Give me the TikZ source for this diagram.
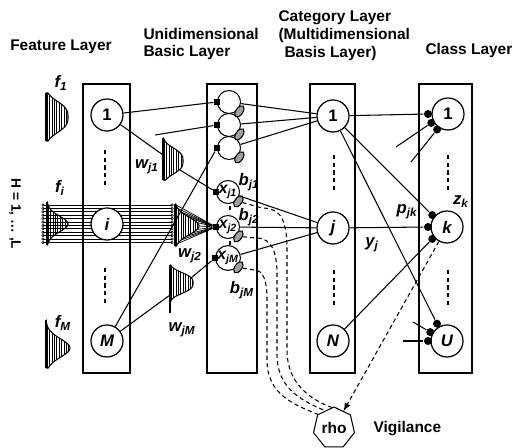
\documentclass[tikz,border=0pt]{standalone}
\usepackage{fontspec}
\setmainfont{Liberation Sans}
\usetikzlibrary{shapes.geometric}

\newcommand{\figfont}{\fontsize{8.8}{10.2}\selectfont\bfseries}
\newcommand{\lblfont}{\fontsize{9.5}{11}\selectfont\bfseries\itshape}
\newcommand{\sub}[2]{#1\textsubscript{#2}}
% hatched half gaussian: x0, ytop, ybot, ypeak, width, sigma, power
\newcommand{\gauss}[7]{%
  \begin{scope}
    \clip (#1,-#2) -- plot[domain=#2:#3,samples=51] ({#1+#5*exp(0-pow(abs((\x-#4)/#6),#7))},{-\x}) -- (#1,-#3) -- cycle;
    \foreach \h in {1.2,3.6,...,30} \draw[line width=0.35pt] (#1+\h,-#2) -- (#1+\h,-#3);
  \end{scope}
  \draw (#1,-#2) -- (#1,-#3);
  \draw (#1,-#2) -- plot[domain=#2:#3,samples=51] ({#1+#5*exp(0-pow(abs((\x-#4)/#6),#7))},{-\x}) -- (#1,-#3);
}

\tikzset{
  layerbox/.style={draw, line width=0.7pt},
  title/.style={font=\figfont, align=left, inner sep=0pt},
  lbl/.style={font=\lblfont, inner sep=0pt},
  bigunit/.style={circle, draw, fill=white, line width=0.7pt, minimum size=0.64cm, inner sep=0pt, font=\lblfont},
  smallunit/.style={circle, draw, fill=white, minimum size=0.46cm, inner sep=0pt, font=\fontsize{9}{10}\selectfont\bfseries\itshape},
  syn/.style={rectangle, fill=black, minimum size=0.12cm, inner sep=0pt},
  dot/.style={circle, fill=black, minimum size=0.16cm, inner sep=0pt},
  bias/.style={ellipse, draw, fill=gray!75, minimum width=0.26cm, minimum height=0.14cm, inner sep=0pt, rotate=55},
  vdash/.style={dash pattern=on 2.4pt off 2pt},
  vigil/.style={dash pattern=on 2.4pt off 1.8pt},
  pin/.style={circle, draw, minimum size=0.05cm, inner sep=0pt, line width=0.3pt},
}

\begin{document}
\begin{tikzpicture}[x=0.02cm, y=0.02cm, line width=0.6pt]
\useasboundingbox (0,0) rectangle (514,-448);

% titles
\node[title] (tfeat) at (61,-47) {Feature Layer};
\node[title, anchor=west] (tuni) at (143,-44) {Unidimensional\\Basic Layer};
\node[title, anchor=west] (tcat) at (278,-36) {Category Layer\\(Multidimensional\\\hspace*{3.4pt}Basis Layer)};
\node[title, anchor=west] (tcls) at (425,-51) {Class Layer};
\node[title, rotate=-90, font=\fontsize{7.8}{9}\selectfont\bfseries] (tH) at (15,-214) {H = 1, \dots\ ,L};

% layer boxes
\draw[layerbox] (83,-84) rectangle (130,-373);
\draw[layerbox] (207,-84) rectangle (257,-373);
\draw[layerbox] (310,-84) rectangle (355,-373);
\draw[layerbox] (419,-84) rectangle (472,-373);

\draw[vdash] (105,-150) -- (105,-187);
\draw[vdash] (105,-268) -- (105,-305);
\draw[vdash] (334,-155) -- (334,-192);
\draw[vdash] (334,-270) -- (334,-307);
\draw[vdash] (448,-155) -- (448,-192);
\draw[vdash] (448,-270) -- (448,-307);

% gaussians
\gauss{46}{93}{141}{117}{22}{18}{3}
\gauss{47}{202}{245}{224}{21}{11}{2}
\gauss{46}{320}{368}{348}{24}{13}{2}
\gauss{163}{138}{180}{161}{20}{15}{3}
\gauss{175}{204}{246}{226}{24}{12}{2}
\gauss{170}{265}{313}{283}{23}{12}{3}

% H lines between the pins
\foreach \i in {0,...,11} {
  \draw[line width=0.4pt] (43,-205-3.4*\i) -- (172,-205-3.4*\i);
  \node[pin] (pl\i) at (43,-205-3.4*\i) {};
  \node[pin] (pr\i) at (172,-205-3.4*\i) {};
}

% labels
\node[lbl] (lf1) at (61,-83) {\sub{f}{1}};
\node[lbl] (lfi) at (60,-188) {\sub{f}{i}};
\node[lbl] (lfM) at (63,-323) {\sub{f}{M}};
\node[lbl] (lw1) at (147,-167) {\sub{w}{j1}};
\node[lbl] (lw2) at (190,-256) {\sub{w}{j2}};
\node[lbl] (lwM) at (182,-330) {\sub{w}{jM}};
\node[lbl] (lb1) at (249,-182) {\sub{b}{j1}};
\node[lbl] (lb2) at (249,-217) {\sub{b}{j2}};
\node[lbl] (lbM) at (242,-290) {\sub{b}{jM}};
\node[lbl] (lyj) at (372,-245) {\sub{y}{j}};
\node[lbl] (lpjk) at (407,-212) {\sub{p}{jk}};
\node[lbl] (lzk) at (461,-202) {\sub{z}{k}};

% feature layer
\node[bigunit, font=\lblfont\upshape] (f1) at (107,-115) {1};
\node[bigunit] (fi) at (107,-224) {i};
\node[bigunit] (fM) at (107,-341) {M};

% unidimensional basic layer
\node[smallunit] (u1) at (229,-102) {};
\node[smallunit] (u2) at (229,-125) {};
\node[smallunit] (u3) at (229,-148) {};
\node[smallunit] (xj1) at (228,-192) {\sub{x}{j1}};
\node[smallunit] (xj2) at (228,-227) {\sub{x}{j2}};
\node[smallunit] (xjM) at (228,-258) {\sub{x}{jM}};
\foreach \u in {u1,u2,u3,xj1,xj2,xjM} {
  \node[syn] (s\u) at (\u.west) {};
  \node[bias] (b\u) at ([shift={(-42:14)}]\u.center) {};
}
\draw (230,-206) -- (230,-210);
\draw (230,-241) -- (230,-245);

% category layer
\node[bigunit, font=\lblfont\upshape] (c1) at (333,-116) {1};
\node[bigunit] (cj) at (333,-228) {j};
\node[bigunit] (cN) at (333,-341) {N};

% class layer
\node[bigunit, font=\lblfont\upshape] (k1) at (448,-114) {1};
\node[bigunit] (kk) at (447,-227) {k};
\node[bigunit] (kU) at (447,-341) {U};
\node[dot] (k1a) at ([shift={(180:20)}]k1.center) {};
\node[dot] (k1b) at ([shift={(208:19)}]k1.center) {};
\node[dot] (k1c) at ([shift={(235:19)}]k1.center) {};
\node[dot] (kka) at ([shift={(141:19)}]kk.center) {};
\node[dot] (kkb) at ([shift={(180:19)}]kk.center) {};
\node[dot] (kkc) at ([shift={(219:19)}]kk.center) {};
\node[dot] (kUa) at ([shift={(120:20)}]kU.center) {};
\node[dot] (kUb) at ([shift={(152:19)}]kU.center) {};
\node[dot] (kUc) at ([shift={(180:19)}]kU.center) {};

% vigilance
\node[regular polygon, regular polygon sides=7, draw, minimum size=0.84cm, inner sep=0pt, font=\figfont] (rho) at (334,-428) {rho};
\node[title, anchor=west] (tvig) at (373,-429) {Vigilance};

% feature -> unidimensional
\coordinate (wj1in) at (163,-155);
\coordinate (wj1out) at (180,-170);
\coordinate (wjMin) at (170,-295);
\coordinate (wjMout) at (191,-278);
\coordinate (t2) at (155,-135);
\draw (f1) -- (su1);
\draw (t2) -- (su2);
\draw (fM) -- (su3);
\draw (f1) -- (wj1in);
\draw (wj1out) -- (sxj1);
\draw (fM) -- (wjMin);
\draw (wjMout) -- (sxjM);
\foreach \y in {205,208.5,...,246}
  \draw[line width=0.4pt] ({175+24*exp(0-((\y-226)/12)*((\y-226)/12))},-\y) -- (sxj2);

% unidimensional -> category
\foreach \u in {u1,u2,u3} \draw (\u) -- (c1);
\foreach \u in {xj1,xj2,xjM} \draw (\u) -- (cj);

% category -> class
\draw (c1) -- (k1a);
\draw (c1) -- (kka);
\draw (c1) -- (kUa);
\draw (cj) -- (kkb);
\draw (cN) -- (kkc);
\coordinate (e1) at (396,-147);
\coordinate (e2) at (411,-162);
\coordinate (e3) at (413,-322);
\coordinate (e4) at (403,-341);
\draw (k1b) -- (e1);
\draw (k1c) -- (e2);
\draw (kUb) -- (e3);
\draw (kUc) -- (e4);

% vigilance links
\draw[vigil, -latex] (kk) -- (rho);
\draw[vigil] (bxj1) -- (262,-208) .. controls (282,-208) and (287,-222) .. (287,-250) -- (287,-350) .. controls (287,-385) and (312,-400) .. (rho.96);
\draw[vigil] (bxj2) -- (256,-238) .. controls (272,-238) and (277,-252) .. (277,-275) -- (277,-355) .. controls (277,-390) and (305,-402) .. (rho.117);
\draw[vigil] (bxjM) -- (254,-270) .. controls (264,-270) and (267,-282) .. (267,-300) -- (267,-360) .. controls (267,-395) and (295,-405) .. (rho.140);
\end{tikzpicture}
\end{document}
